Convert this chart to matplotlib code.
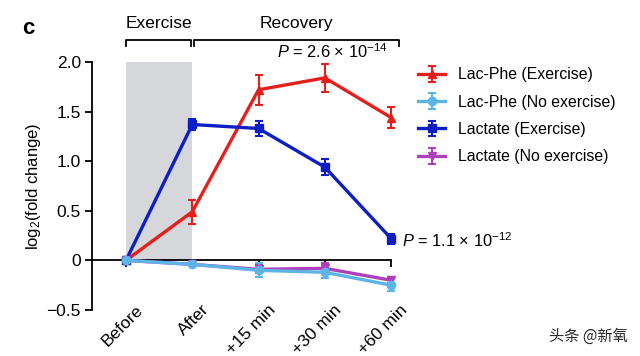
import matplotlib
matplotlib.use("Agg")
import matplotlib.pyplot as plt
import matplotlib.transforms as mtransforms

plt.rcParams['font.family'] = ['Liberation Sans', 'DejaVu Sans']
plt.rcParams['mathtext.fontset'] = 'custom'
plt.rcParams['mathtext.rm'] = 'Liberation Sans'
plt.rcParams['mathtext.it'] = 'Liberation Sans:italic'

# data
timepoints = ["Before", "After", "+15 min", "+30 min", "+60 min"]
lacphe_ex = [0.0, 0.49, 1.72, 1.84, 1.44]
lacphe_ex_err = [0.0, 0.12, 0.15, 0.14, 0.11]
lacphe_noex = [0.0, -0.04, -0.10, -0.12, -0.25]
lacphe_noex_err = [0.0, 0.0, 0.07, 0.06, 0.06]
lactate_ex = [0.0, 1.37, 1.33, 0.94, 0.22]
lactate_ex_err = [0.0, 0.06, 0.08, 0.08, 0.05]
lactate_noex = [0.0, -0.04, -0.09, -0.08, -0.20]
lactate_noex_err = [0.0, 0.0, 0.04, 0.05, 0.03]

series = [
    ("Lac-Phe (Exercise)", lacphe_ex, lacphe_ex_err, "#e3201c", "^"),
    ("Lactate (Exercise)", lactate_ex, lactate_ex_err, "#0c1ec4", "s"),
    ("Lactate (No exercise)", lactate_noex, lactate_noex_err, "#b03fbc", "v"),
    ("Lac-Phe (No exercise)", lacphe_noex, lacphe_noex_err, "#5db5e6", "o"),
]
legend_order = ["Lac-Phe (Exercise)", "Lac-Phe (No exercise)",
                "Lactate (Exercise)", "Lactate (No exercise)"]

W, H = 640, 356
fig = plt.figure(figsize=(W / 100, H / 100), dpi=100)
ax = fig.add_axes([92 / W, 46 / H, 319 / W, 248 / H])

x = list(range(len(timepoints)))
ax.set_xlim(-0.513, 4.3)
ax.set_ylim(-0.5, 2.0)

# exercise period shading
ax.axvspan(0, 1, ymin=0.2, ymax=1.0, color="#d5d7da", lw=0, zorder=0)

handles = {}
for label, vals, err, col, mk in series:
    h = ax.errorbar(x, vals, yerr=err, color=col, marker=mk, ms=6, lw=2.4,
                    elinewidth=1.5, capsize=3, capthick=1.5, clip_on=False,
                    zorder=3, label=label)
    handles[label] = h

# axes styling
for s in ["top", "right", "bottom"]:
    ax.spines[s].set_visible(False)
ax.spines["left"].set_linewidth(1.3)
ax.set_yticks([-0.5, 0, 0.5, 1.0, 1.5, 2.0])
ax.set_yticklabels(["\u22120.5", "0", "0.5", "1.0", "1.5", "2.0"])
ax.tick_params(axis="y", length=5, width=1.3, labelsize=12.5, pad=3)
ax.set_ylabel("log$_2$(fold change)", fontsize=12)
ax.yaxis.set_label_coords(-0.155, 0.5)

ax.set_xticks(x)
ax.set_xticklabels(timepoints, rotation=45, ha="right", va="top",
                   rotation_mode="anchor", fontsize=12.5)
ax.tick_params(axis="x", length=0, pad=0)
shift = mtransforms.ScaledTranslation(9 / 100, 8 / 100, fig.dpi_scale_trans)
for lab in ax.get_xticklabels():
    lab.set_transform(lab.get_transform() + shift)

# zero line acting as x axis
sec = ax.secondary_xaxis(0.2)
sec.set_xticks(x)
sec.set_xticklabels([])
sec.tick_params(axis="x", direction="out", length=5, width=1.3)
sec.spines["bottom"].set_linewidth(1.3)
sec.spines["bottom"].set_bounds(ax.get_xlim()[0], x[-1])

# brackets above the plot
trans = mtransforms.blended_transform_factory(ax.transData, ax.transAxes)
by = 1.089
tk = 0.025
for x0, x1, txt in [(x[0], x[1] - 0.02, "Exercise"), (x[1] + 0.02, x[-1] + 0.12, "Recovery")]:
    ax.plot([x0, x0, x1, x1], [by - tk, by, by, by - tk], color="black",
            lw=1.3, transform=trans, clip_on=False)
    ax.text((x0 + x1) / 2, by + 0.065, txt, transform=trans, ha="center",
            va="center", fontsize=12.5)

ax.text(3.94, 1.04, r"$P$ = 2.6 $\times$ 10$^{-14}$", transform=trans,
        ha="right", va="center", fontsize=11.8)
ax.text(4.17, 0.2, r"$P$ = 1.1 $\times$ 10$^{-12}$", ha="left", va="center",
        fontsize=11.8)

fig.text(22 / W, 1 - 28 / H, "c", fontsize=16, fontweight="heavy", va="center")

fig.legend([handles[k] for k in legend_order], legend_order,
           loc="upper left", bbox_to_anchor=(412 / W, 1 - 61 / H),
           frameon=False, fontsize=11.4, handlelength=1.7,
           labelspacing=0.78, handletextpad=0.8, borderaxespad=0)

fig.text(628 / W, 1 - 336 / H, "头条 @新氧", family=["Noto Sans CJK SC", "DejaVu Sans"],
         fontsize=11, color="#2a2a2a", ha="right", va="center")

fig.savefig("out.png", dpi=100)
